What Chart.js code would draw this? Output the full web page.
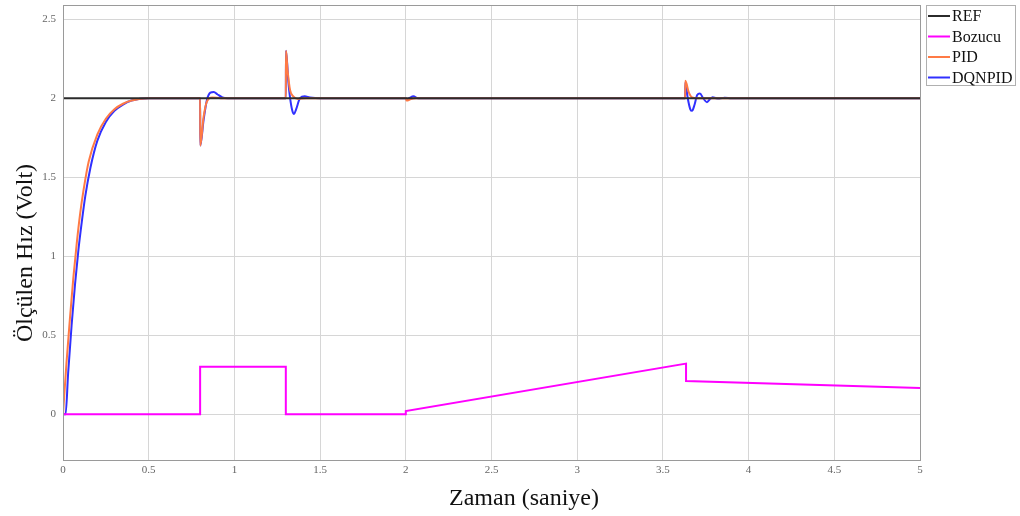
<!DOCTYPE html>
<html>
<head>
<meta charset="utf-8">
<script src="https://cdn.jsdelivr.net/npm/chart.js@4.4.1/dist/chart.umd.min.js"></script>
<style>
  html, body { margin: 0; padding: 0; background: #fff; }
  #wrap { width: 1020px; height: 516px; }
</style>
</head>
<body>
<div id="wrap"><canvas id="myChart" width="1020" height="516"></canvas></div>
<script>
// DATOS
const xTickValues = [0, 0.5, 1, 1.5, 2, 2.5, 3, 3.5, 4, 4.5, 5];
const yTickValues = [0, 0.5, 1, 1.5, 2, 2.5];

const refTime = [0, 5];
const refValues = [2, 2];

const bozucuTime = [0, 0.8, 0.8, 1.3, 1.3, 2.0, 2.0, 3.635, 3.635, 5];
const bozucuValues = [0, 0, 0.3, 0.3, 0, 0, 0.02, 0.32, 0.21, 0.165];

const pidTime = [0, 0.02, 0.04, 0.06, 0.08, 0.1, 0.12, 0.15, 0.2, 0.25, 0.3, 0.35, 0.4, 0.5,
  0.8, 0.801, 0.82, 0.84, 0.87, 0.92,
  1.3, 1.301, 1.31, 1.325, 1.345, 1.37, 1.42,
  2.0, 2.005, 2.03, 2.06,
  3.63, 3.631, 3.65, 3.67, 3.7, 5];
const pidValues = [0, 0.32, 0.6, 0.86, 1.08, 1.27, 1.42, 1.6, 1.77, 1.87, 1.93, 1.965, 1.985, 2.0,
  2.0, 1.7, 1.88, 1.98, 2.005, 2.0,
  2.0, 2.3, 2.18, 2.05, 2.01, 1.995, 2.0,
  2.0, 1.985, 1.995, 2.0,
  2.0, 2.11, 2.04, 2.005, 2.0, 2.0];

const dqnTime = [0, 0.015, 0.03, 0.05, 0.07, 0.09, 0.11, 0.13, 0.16, 0.2, 0.25, 0.3, 0.35, 0.4, 0.5,
  0.8, 0.801, 0.82, 0.84, 0.86, 0.88, 0.9, 0.93, 0.96,
  1.3, 1.301, 1.315, 1.325, 1.338, 1.348, 1.36, 1.383, 1.41, 1.44, 1.5,
  2.0, 2.005, 2.02, 2.045, 2.07,
  3.63, 3.631, 3.645, 3.66, 3.67, 3.685, 3.7, 3.716, 3.735, 3.757, 3.775, 3.79, 3.81, 3.83, 3.86, 3.9, 5];
const dqnValues = [0, 0, 0.26, 0.56, 0.82, 1.04, 1.22, 1.38, 1.56, 1.73, 1.85, 1.92, 1.96, 1.985, 2.0,
  2.0, 1.7, 1.86, 1.99, 2.035, 2.04, 2.025, 2.005, 2.0,
  2.0, 2.3, 2.1, 2.0, 1.92, 1.9, 1.93, 2.0, 2.012, 2.005, 2.0,
  2.0, 1.99, 2.0, 2.012, 2.0,
  2.0, 2.1, 2.0, 1.93, 1.92, 1.96, 2.02, 2.03, 2.0, 1.975, 1.995, 2.006, 2.0, 1.998, 2.003, 2.0, 2.0];

function toPoints(times, values) {
  return times.map((t, i) => ({ x: t, y: values[i] }));
}

// PLUGIN: marco, titulos de ejes y leyenda
const framePlugin = {
  id: 'frame',
  afterDraw(chart) {
    const ctx = chart.ctx;
    const a = chart.chartArea;
    ctx.save();
    ctx.strokeStyle = '#9a9a9a';
    ctx.lineWidth = 1;
    ctx.strokeRect(a.left + 0.5, a.top + 0.5, a.right - a.left, a.bottom - a.top);

    // titulos
    ctx.fillStyle = '#111';
    ctx.font = '24px "Liberation Serif", "DejaVu Serif", serif';
    ctx.textAlign = 'center';
    ctx.textBaseline = 'alphabetic';
    ctx.fillText('Zaman (saniye)', 524, 505);
    ctx.translate(32, 253);
    ctx.rotate(-Math.PI / 2);
    ctx.fillText('Ölçülen Hız (Volt)', 0, 0);
    ctx.restore();

    // leyenda
    ctx.save();
    ctx.fillStyle = '#fff';
    ctx.fillRect(926, 5, 89, 80);
    ctx.strokeStyle = '#b0b0b0';
    ctx.lineWidth = 1;
    ctx.strokeRect(926.5, 5.5, 89, 80);
    ctx.font = '16px "Liberation Serif", "DejaVu Serif", serif';
    ctx.textAlign = 'left';
    ctx.textBaseline = 'middle';
    chart.data.datasets.forEach((ds, i) => {
      const y = 16 + i * 20.5;
      ctx.strokeStyle = ds.borderColor;
      ctx.lineWidth = 2;
      ctx.beginPath();
      ctx.moveTo(928, y);
      ctx.lineTo(950, y);
      ctx.stroke();
      ctx.fillStyle = '#111';
      ctx.fillText(ds.label, 952, y + 1);
    });
    ctx.restore();
  }
};

const tickFont = { family: '"Liberation Serif", "DejaVu Serif", serif', size: 11 };

const config = {
  type: 'line',
  data: {
    datasets: [
      { label: 'REF', data: toPoints(refTime, refValues), borderColor: '#2b2b2b', borderWidth: 2 },
      { label: 'Bozucu', data: toPoints(bozucuTime, bozucuValues), borderColor: '#ff00ff', borderWidth: 2 },
      { label: 'PID', data: toPoints(pidTime, pidValues), borderColor: '#ff7a45', borderWidth: 2, cubicInterpolationMode: 'monotone' },
      { label: 'DQNPID', data: toPoints(dqnTime, dqnValues), borderColor: '#3030ff', borderWidth: 2, cubicInterpolationMode: 'monotone' }
    ]
  },
  options: {
    responsive: false,
    animation: false,
    parsing: false,
    elements: { point: { radius: 0 } },
    layout: { padding: { left: 0, right: 100, top: 5, bottom: 0 } },
    plugins: {
      legend: { display: false },
      tooltip: { enabled: false }
    },
    scales: {
      x: {
        type: 'linear',
        min: 0,
        max: 5,
        afterBuildTicks: (scale) => { scale.ticks = xTickValues.map(v => ({ value: v })); },
        afterFit: (scale) => { scale.height = 56; scale.paddingLeft = 0; scale.paddingRight = 0; },
        ticks: { font: tickFont, color: '#666', padding: 4, maxRotation: 0, callback: (v) => String(v) },
        grid: { color: '#d6d6d6', drawTicks: false },
        border: { display: false }
      },
      y: {
        type: 'linear',
        min: -0.29,
        max: 2.59,
        afterBuildTicks: (scale) => { scale.ticks = yTickValues.map(v => ({ value: v })); },
        afterFit: (scale) => { scale.width = 63; scale.paddingTop = 0; scale.paddingBottom = 0; },
        ticks: { font: tickFont, color: '#666', padding: 7, callback: (v) => String(v) },
        grid: { color: '#d6d6d6', drawTicks: false },
        border: { display: false }
      }
    }
  },
  plugins: [framePlugin]
};

const myChart = new Chart(document.getElementById('myChart'), config);
</script>
</body>
</html>
